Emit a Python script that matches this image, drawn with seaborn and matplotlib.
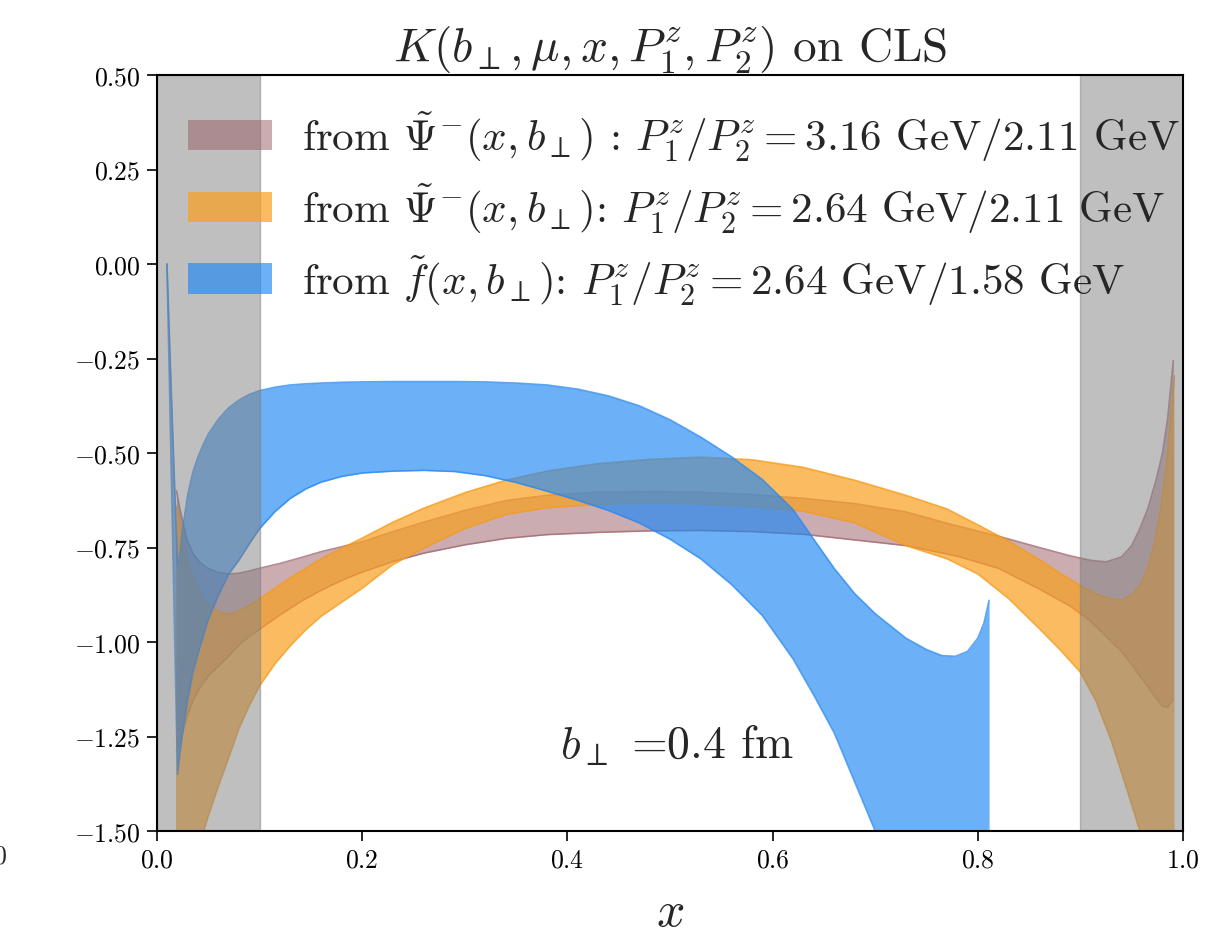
import numpy as np
import matplotlib
matplotlib.use("Agg")
import matplotlib.pyplot as plt
import seaborn as sns

# ---------------- data ----------------
# f~(x,b) band, P1/P2 = 2.64/1.58 GeV
x_f = [0.0097, 0.015, 0.020, 0.0225, 0.025, 0.030, 0.035, 0.040, 0.045, 0.050,
       0.060, 0.070, 0.080, 0.090, 0.100, 0.115, 0.130, 0.145, 0.160, 0.180,
       0.200, 0.230, 0.260, 0.290, 0.320, 0.350, 0.380, 0.410, 0.440, 0.470,
       0.500, 0.530, 0.560, 0.590, 0.620, 0.640, 0.660, 0.680, 0.700, 0.730,
       0.750, 0.765, 0.778, 0.790, 0.800, 0.806, 0.811]
f_up = [0.00, -0.42, -0.80, -0.76, -0.70, -0.61, -0.55, -0.51, -0.478, -0.45,
        -0.41, -0.38, -0.36, -0.345, -0.335, -0.326, -0.320, -0.317, -0.315, -0.313,
        -0.312, -0.311, -0.311, -0.311, -0.312, -0.315, -0.320, -0.331, -0.349, -0.375,
        -0.412, -0.458, -0.510, -0.570, -0.650, -0.728, -0.805, -0.872, -0.925, -0.990,
        -1.02, -1.036, -1.038, -1.025, -0.99, -0.95, -0.89]
f_lo = [0.00, -0.69, -1.35, -1.29, -1.24, -1.15, -1.08, -1.03, -0.985, -0.94,
        -0.875, -0.82, -0.783, -0.74, -0.70, -0.655, -0.62, -0.595, -0.577, -0.562,
        -0.553, -0.548, -0.546, -0.549, -0.560, -0.578, -0.601, -0.625, -0.652, -0.685,
        -0.728, -0.780, -0.848, -0.930, -1.045, -1.14, -1.24, -1.37, -1.50, -1.69,
        -1.82, -1.92, -2.00, -2.07, -2.13, -2.17, -2.20]

# Psi~- band, P1/P2 = 3.16/2.11 GeV
x_m = [0.019, 0.022, 0.025, 0.029, 0.035, 0.042, 0.050, 0.060, 0.070, 0.080,
       0.090, 0.100, 0.120, 0.140, 0.160, 0.180, 0.200, 0.230, 0.260, 0.300,
       0.340, 0.380, 0.430, 0.480, 0.530, 0.580, 0.630, 0.680, 0.730, 0.780,
       0.820, 0.860, 0.890, 0.910, 0.925, 0.940, 0.950, 0.958, 0.966, 0.974,
       0.980, 0.985, 0.9906]
m_up = [-0.60, -0.645, -0.68, -0.728, -0.765, -0.79, -0.806, -0.816, -0.82, -0.818,
        -0.812, -0.805, -0.792, -0.777, -0.761, -0.748, -0.735, -0.708, -0.683, -0.652,
        -0.626, -0.612, -0.604, -0.602, -0.604, -0.61, -0.62, -0.634, -0.656, -0.693,
        -0.72, -0.75, -0.772, -0.784, -0.788, -0.775, -0.745, -0.70, -0.645, -0.569,
        -0.50, -0.41, -0.256]
m_lo = [-1.29, -1.265, -1.24, -1.20, -1.155, -1.12, -1.09, -1.064, -1.037, -1.008,
        -0.985, -0.966, -0.928, -0.893, -0.863, -0.837, -0.815, -0.787, -0.765, -0.743,
        -0.726, -0.716, -0.71, -0.706, -0.705, -0.708, -0.715, -0.73, -0.745, -0.773,
        -0.805, -0.86, -0.905, -0.945, -0.985, -1.025, -1.06, -1.09, -1.12, -1.15,
        -1.17, -1.172, -1.151]

# Psi~- band, P1/P2 = 2.64/2.11 GeV
x_o = [0.0185, 0.021, 0.025, 0.030, 0.035, 0.040, 0.045, 0.050, 0.060, 0.070,
       0.080, 0.090, 0.100, 0.115, 0.130, 0.145, 0.160, 0.180, 0.200, 0.230,
       0.260, 0.300, 0.340, 0.380, 0.430, 0.480, 0.530, 0.580, 0.630, 0.680,
       0.730, 0.770, 0.800, 0.830, 0.860, 0.880, 0.900, 0.915, 0.930, 0.940,
       0.950, 0.958, 0.966, 0.972, 0.978, 0.984, 0.9917]
o_up = [-0.64, -0.66, -0.72, -0.78, -0.825, -0.858, -0.884, -0.90, -0.92, -0.926,
        -0.918, -0.903, -0.886, -0.858, -0.83, -0.805, -0.78, -0.752, -0.725, -0.683,
        -0.646, -0.605, -0.572, -0.548, -0.528, -0.517, -0.511, -0.518, -0.538, -0.572,
        -0.612, -0.648, -0.69, -0.733, -0.782, -0.818, -0.851, -0.872, -0.886, -0.889,
        -0.875, -0.85, -0.80, -0.74, -0.65, -0.53, -0.296]
o_lo = [-3.0, -2.7, -2.3, -1.95, -1.75, -1.60, -1.505, -1.46, -1.38, -1.305,
        -1.228, -1.168, -1.116, -1.058, -1.01, -0.968, -0.932, -0.895, -0.858, -0.795,
        -0.752, -0.70, -0.663, -0.645, -0.636, -0.632, -0.635, -0.642, -0.654, -0.685,
        -0.745, -0.78, -0.82, -0.885, -0.965, -1.02, -1.08, -1.155, -1.26, -1.345,
        -1.43, -1.50, -1.60, -1.68, -1.76, -1.85, -1.95]

labels = [
    r"from $\tilde{\Psi}^{-}(x,b_{\perp})$ : $P_1^z/P_2^z=3.16$ GeV/2.11 GeV",
    r"from $\tilde{\Psi}^{-}(x,b_{\perp})$: $P_1^z/P_2^z=2.64$ GeV/2.11 GeV",
    r"from $\tilde{f}(x,b_{\perp})$: $P_1^z/P_2^z=2.64$ GeV/1.58 GeV",
]
x_ticks = [0.0, 0.2, 0.4, 0.6, 0.8, 1.0]
y_ticks = [0.50, 0.25, 0.00, -0.25, -0.50, -0.75, -1.00, -1.25, -1.50]
excluded = [(0.0, 0.1), (0.9, 1.0)]

# ---------------- style ----------------
sns.set_style("ticks")
plt.rcParams.update({
    "font.family": "serif",
    "font.serif": ["cmr10", "DejaVu Serif"],
    "mathtext.fontset": "cm",
    "axes.formatter.use_mathtext": True,
    "axes.unicode_minus": True,
    "axes.edgecolor": "black",
    "xtick.color": "black",
    "ytick.color": "black",
})

c_m, c_o, c_f = "#965a64", "#faa01e", "#1e87f5"
e_m, e_o, e_f = "#a0656d", "#f59a1a", "#2a88ee"

fig = plt.figure(figsize=(12.3, 9.37), dpi=100)
ax = fig.add_axes([157 / 1230, 1 - 832 / 937, 1026 / 1230, 756 / 937])

series = [
    (x_m, m_up, m_lo, c_m, e_m, 0.5, labels[0]),
    (x_o, o_up, o_lo, c_o, e_o, 0.7, labels[1]),
    (x_f, f_up, f_lo, c_f, e_f, 0.65, labels[2]),
]
for i, (xx, up, lo, c, ec, a, lab) in enumerate(series):
    ax.fill_between(xx, lo, up, color=c, alpha=a, lw=0, label=lab, zorder=2 + i)
    sns.lineplot(x=xx, y=up, ax=ax, color=ec, lw=1.2, alpha=0.75,
                 estimator=None, sort=False, legend=False, zorder=2 + i)
    sns.lineplot(x=xx, y=lo, ax=ax, color=ec, lw=1.2, alpha=0.75,
                 estimator=None, sort=False, legend=False, zorder=2 + i)

for (a0, a1) in excluded:
    ax.axvspan(a0, a1, color="gray", alpha=0.5, lw=1, zorder=6)

ax.set_xlim(0, 1)
ax.set_ylim(-1.5, 0.5)
ax.set_xticks(x_ticks)
ax.set_yticks(y_ticks)
ax.tick_params(direction="out", length=7, width=1.2, labelsize=18.5, pad=5)
for s in ax.spines.values():
    s.set_linewidth(1.5)
    s.set_zorder(10)

ax.set_title(r"$K(b_{\perp},\mu,x,P_1^z,P_2^z)$ on CLS", fontsize=34, pad=9)
ax.set_xlabel(r"$x$", fontsize=36, labelpad=13)
ax.text(0.507, -1.27, r"$b_{\perp}$ =0.4 fm", fontsize=33, ha="center", va="center",
        zorder=12)

leg = ax.legend(loc="upper left", bbox_to_anchor=(0.030, 0.955), frameon=False,
                fontsize=31, handlelength=1.95, handleheight=0.7,
                labelspacing=0.4, handletextpad=0.7, borderpad=0,
                borderaxespad=0)
leg.set_zorder(20)

# fragment of a neighbouring panel's tick label at the left edge
fig.text(8 / 1230, 1 - 857 / 937, r"$1.0$", fontsize=18.5, ha="right", va="center")

fig.savefig("out.png", dpi=100)
